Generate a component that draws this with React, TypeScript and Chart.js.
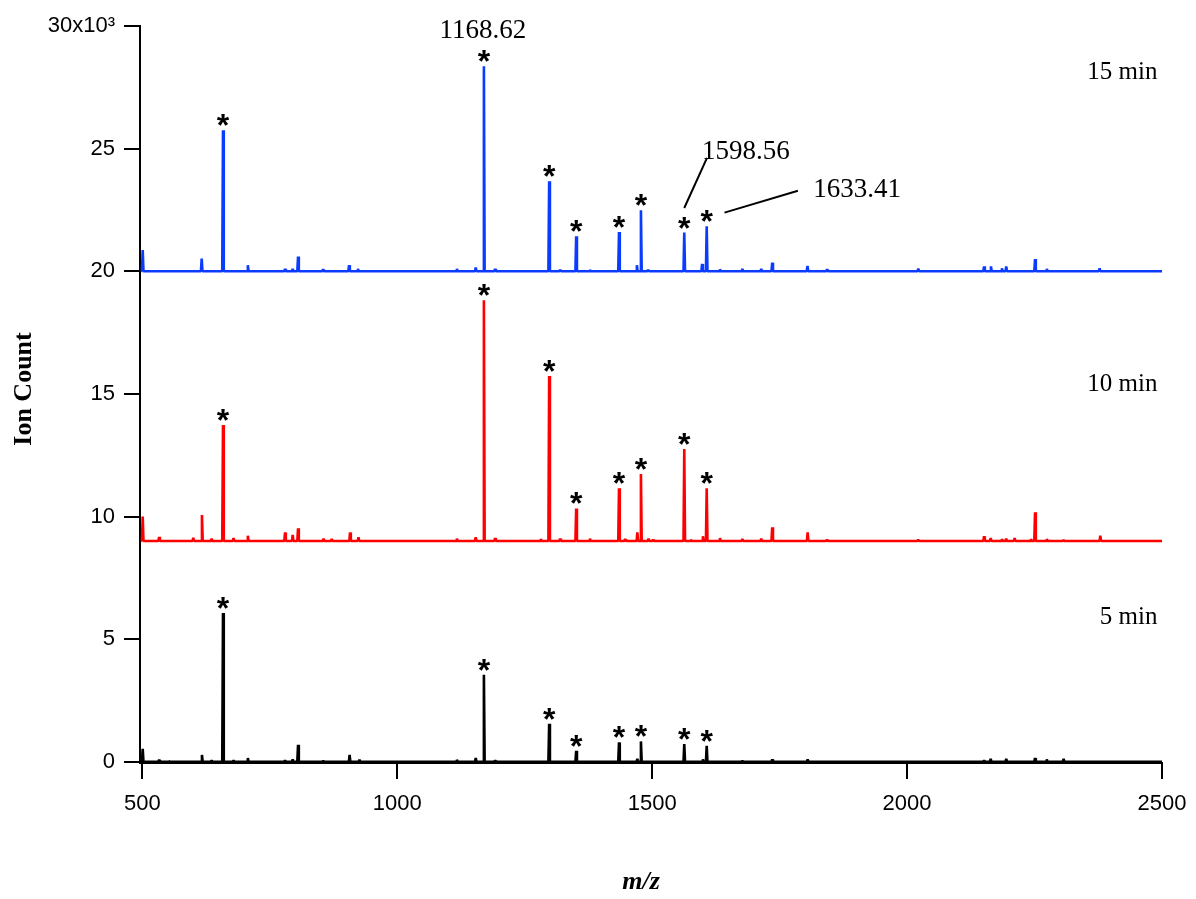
import React, { useEffect, useRef } from "react";
import { Chart, registerables } from "chart.js";

Chart.register(...registerables);

// ---- data (m/z and ion counts above each trace's own baseline) ----
const xTicks = [500, 1000, 1500, 2000, 2500];
const yTicks = [0, 5000, 10000, 15000, 20000, 25000, 30000];

const traceNames = ["15 min", "10 min", "5 min"];
const traceOffsets = [20000, 9000, 0];

const mz15 = [500.8, 616.5, 658.3, 707, 780, 795, 805.5, 854.5, 905.6, 923, 1117, 1154, 1170, 1192, 1298, 1319.5, 1351, 1378, 1435, 1470, 1478, 1492, 1563, 1598, 1607, 1633, 1677, 1714, 1735.5, 1804.7, 1843, 2022, 2151, 2164.5, 2186, 2194.5, 2251, 2274, 2377.6];
const counts15 = [860, 520, 5750, 250, 100, 100, 600, 80, 250, 100, 100, 150, 8360, 100, 3670, 60, 1430, 60, 1600, 250, 2490, 60, 1580, 300, 1830, 80, 100, 100, 350, 220, 80, 110, 200, 200, 120, 200, 500, 100, 120];

const mz10 = [500.8, 533, 600, 617, 636, 658.3, 679, 707, 780, 795, 805.5, 855.5, 871.6, 907.5, 924, 1117, 1154, 1170, 1192, 1281.6, 1298, 1319.5, 1351, 1378, 1435, 1447, 1471, 1478, 1493, 1502, 1563, 1576, 1599.5, 1607, 1633, 1677, 1714, 1735.5, 1805, 1843, 2022, 2151, 2164, 2186, 2194.5, 2211, 2243, 2251, 2274, 2307, 2379];
const counts10 = [1000, 170, 130, 1060, 100, 4730, 120, 220, 350, 250, 520, 100, 80, 350, 150, 100, 150, 9820, 120, 80, 6730, 100, 1330, 100, 2150, 80, 350, 2730, 100, 60, 3750, 60, 200, 2150, 120, 80, 100, 560, 350, 60, 60, 200, 120, 80, 100, 120, 80, 1170, 80, 50, 220];

const mz5 = [500.8, 533, 552, 617, 636, 658.3, 679, 707, 780, 795, 805.5, 855, 906.6, 926, 1117, 1154, 1170, 1192, 1298, 1351, 1435, 1471, 1478, 1563, 1599.5, 1607, 1677, 1735.5, 1805, 2151, 2164, 2194.5, 2251, 2274, 2307];
const counts5 = [530, 80, 40, 280, 50, 6070, 60, 150, 50, 100, 690, 40, 280, 80, 80, 150, 3550, 60, 1550, 450, 790, 120, 830, 720, 100, 650, 40, 100, 100, 50, 120, 120, 150, 100, 120];

const starredMz = [658.3, 1170, 1298, 1351, 1435, 1478, 1563, 1607];

const peakLabelTexts = ["1168.62", "1598.56", "1633.41"];

// ---- styling / annotation layout ----
const traceColors = ["#0a3cff", "#ff0000", "#000000"];
const MZ_MIN = 495.5;
const MZ_MAX = 2500;

const peakLabelPos = [
  { mz: 1168, count: 29800 },
  { mz: 1684, count: 24870 },
  { mz: 1902, count: 23300 },
];
const leaderLines = [
  { from: [1563, 22580], to: [1607.6, 24620] },
  { from: [1641.9, 22390], to: [1785.9, 23280] },
];
const traceLabelPos = [
  { mz: 2491, count: 28100 },
  { mz: 2491, count: 15400 },
  { mz: 2491, count: 5870 },
];

function buildTrace(mz: number[], counts: number[], offset: number) {
  const pts: { x: number; y: number }[] = [{ x: 500, y: offset }];
  const half = 1.5;
  mz.forEach((m, i) => {
    pts.push({ x: m - half, y: offset });
    pts.push({ x: m, y: offset + counts[i] });
    pts.push({ x: m + half, y: offset });
  });
  pts.push({ x: MZ_MAX, y: offset });
  return pts;
}

const traces = [
  { mz: mz15, counts: counts15 },
  { mz: mz10, counts: counts10 },
  { mz: mz5, counts: counts5 },
];

const annotPlugin = {
  id: "annot",
  afterDraw(chart: any) {
    const ctx = chart.ctx as CanvasRenderingContext2D;
    const xs = chart.scales.x;
    const ys = chart.scales.y;
    const px = (v: number) => xs.getPixelForValue(v);
    const py = (v: number) => ys.getPixelForValue(v);
    ctx.save();
    ctx.fillStyle = "#000";
    ctx.strokeStyle = "#000";

    // asterisks
    ctx.font = "bold 32px 'Liberation Sans', Arial, sans-serif";
    ctx.textAlign = "center";
    ctx.textBaseline = "alphabetic";
    const m = ctx.measureText("*");
    const baseShift = (m.actualBoundingBoxAscent - m.actualBoundingBoxDescent) / 2;
    traces.forEach((t, ti) => {
      starredMz.forEach((s) => {
        const idx = t.mz.indexOf(s);
        if (idx < 0) return;
        const x = px(s);
        const top = py(traceOffsets[ti] + t.counts[idx]);
        const cy = top - 10;
        ctx.fillText("*", x, cy + baseShift);
      });
    });

    // peak labels
    ctx.font = "27px 'Liberation Serif', 'Times New Roman', serif";
    ctx.textBaseline = "middle";
    ctx.textAlign = "center";
    peakLabelTexts.forEach((txt, i) => {
      ctx.fillText(txt, px(peakLabelPos[i].mz), py(peakLabelPos[i].count));
    });

    // leader lines
    ctx.lineWidth = 2;
    leaderLines.forEach((l) => {
      ctx.beginPath();
      ctx.moveTo(px(l.from[0]), py(l.from[1]));
      ctx.lineTo(px(l.to[0]), py(l.to[1]));
      ctx.stroke();
    });

    // trace labels
    ctx.font = "25px 'Liberation Serif', 'Times New Roman', serif";
    ctx.textAlign = "right";
    traceNames.forEach((n, i) => {
      ctx.fillText(n, px(traceLabelPos[i].mz), py(traceLabelPos[i].count));
    });

    // axis titles
    ctx.font = "bold 26px 'Liberation Serif', 'Times New Roman', serif";
    ctx.textAlign = "center";
    ctx.save();
    ctx.translate(24, 389);
    ctx.rotate(-Math.PI / 2);
    ctx.fillText("Ion Count", 0, 0);
    ctx.restore();
    ctx.font = "italic bold 26px 'Liberation Serif', 'Times New Roman', serif";
    ctx.fillText("m/z", 641, 882);
    ctx.restore();
  },
};

export default function App() {
  const canvasRef = useRef<HTMLCanvasElement | null>(null);

  useEffect(() => {
    document.body.style.margin = "0";
    const canvas = canvasRef.current;
    if (!canvas) return;
    const tickFont = { family: "'Liberation Sans', Arial, sans-serif", size: 22 };
    const chart = new Chart(canvas, {
      type: "line",
      data: {
        datasets: traces.map((t, i) => ({
          label: traceNames[i],
          data: buildTrace(t.mz, t.counts, traceOffsets[i]),
          borderColor: traceColors[i],
          backgroundColor: traceColors[i],
          borderWidth: 2.6,
          pointRadius: 0,
          tension: 0,
          fill: false,
          borderJoinStyle: "bevel" as const,
        })),
      },
      options: {
        responsive: false,
        animation: false,
        devicePixelRatio: 1,
        layout: { padding: { top: 26, right: 34, left: 0, bottom: 0 } },
        plugins: { legend: { display: false }, tooltip: { enabled: false } },
        scales: {
          x: {
            type: "linear",
            min: MZ_MIN,
            max: MZ_MAX,
            afterBuildTicks: (s: any) => {
              s.ticks = xTicks.map((v) => ({ value: v }));
            },
            afterFit: (s: any) => {
              s.height = 136;
              s.paddingLeft = 0;
              s.paddingRight = 0;
            },
            grid: { drawOnChartArea: false, drawTicks: true, tickLength: 16, color: "#000", lineWidth: 2 },
            border: { display: true, color: "#000", width: 2 },
            ticks: {
              color: "#000",
              font: tickFont,
              padding: 12,
              maxRotation: 0,
              autoSkip: false,
              callback: (v: any) => String(v),
            },
          },
          y: {
            type: "linear",
            min: -50,
            max: 30000,
            afterBuildTicks: (s: any) => {
              s.ticks = yTicks.map((v) => ({ value: v }));
            },
            afterFit: (s: any) => {
              s.width = 140;
              s.paddingTop = 0;
              s.paddingBottom = 0;
            },
            grid: { drawOnChartArea: false, drawTicks: true, tickLength: 16, color: "#000", lineWidth: 2 },
            border: { display: true, color: "#000", width: 2 },
            ticks: {
              color: "#000",
              font: tickFont,
              padding: 9,
              autoSkip: false,
              callback: (v: any) => (v === 30000 ? "30x10³" : String(v / 1000)),
            },
          },
        },
      },
      plugins: [annotPlugin],
    });
    return () => chart.destroy();
  }, []);

  return (
    <div style={{ width: 1196, height: 899 }}>
      <canvas ref={canvasRef} width={1196} height={899} style={{ display: "block" }} />
    </div>
  );
}
